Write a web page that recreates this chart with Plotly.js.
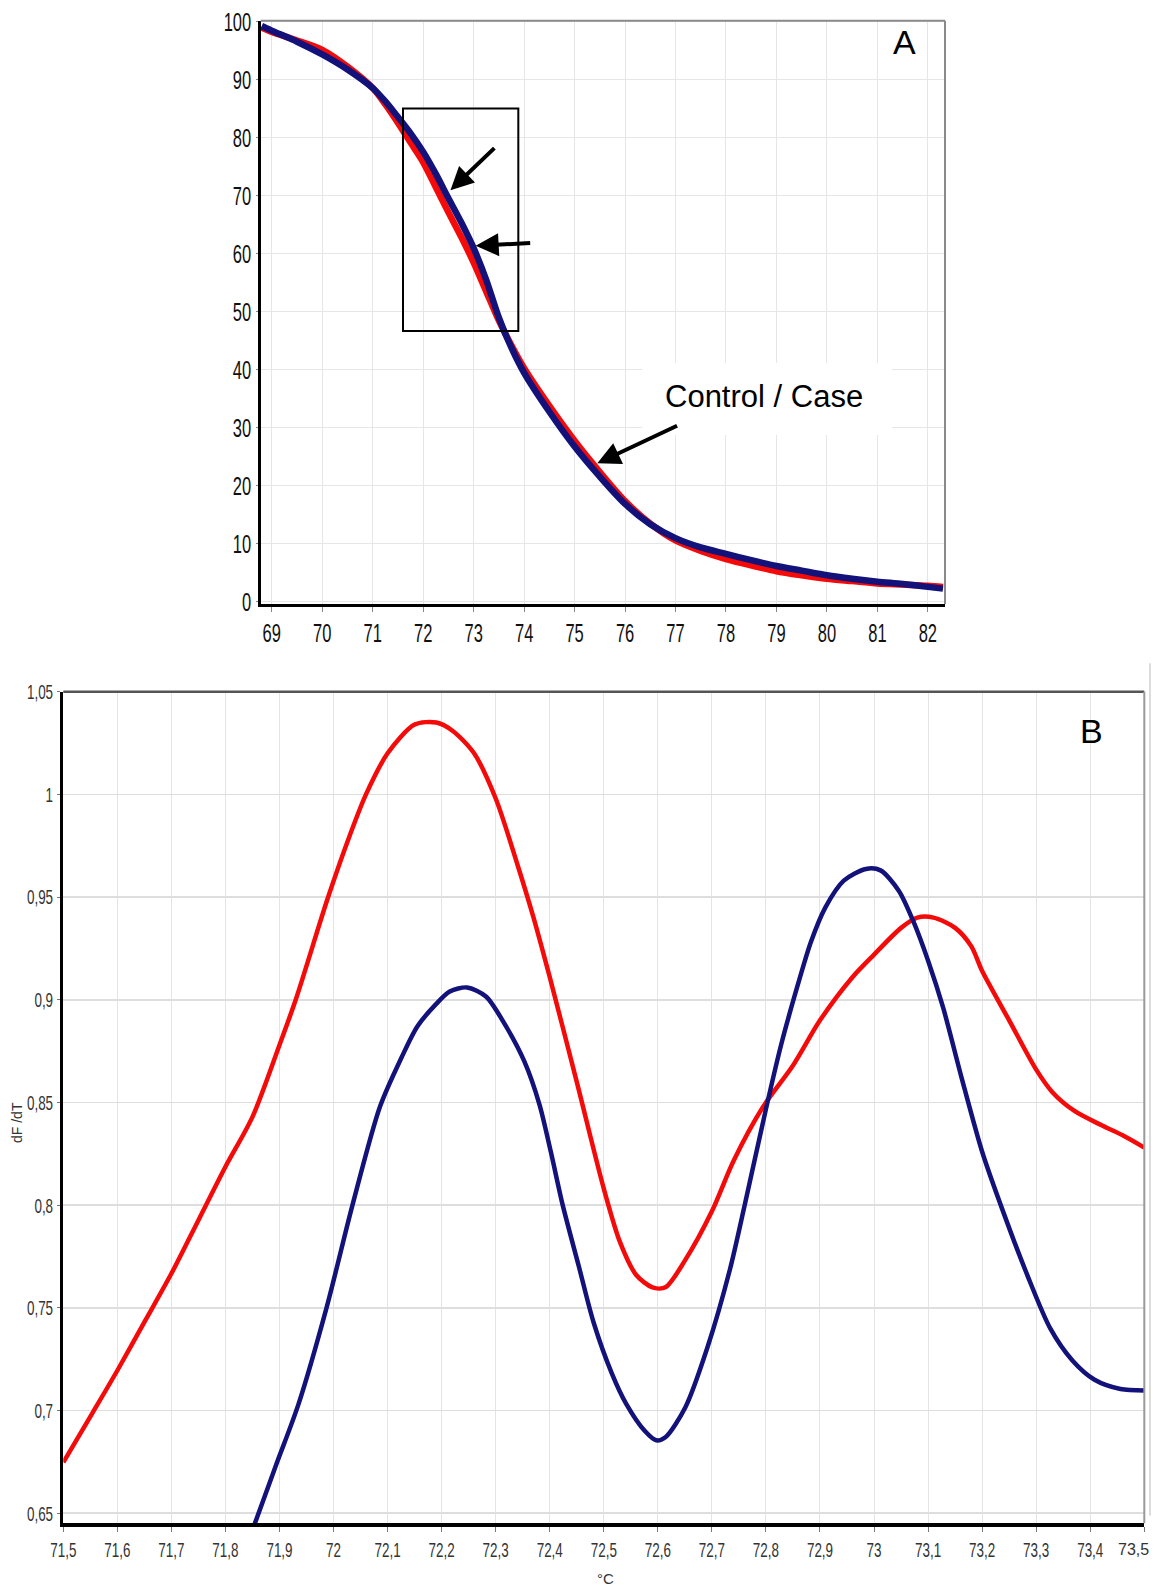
<!DOCTYPE html>
<html>
<head>
<meta charset="utf-8">
<script src="https://cdn.plot.ly/plotly-3.0.1.min.js"></script>
<style>
  html, body { margin: 0; padding: 0; background: #ffffff; }
  #chart { width: 1157px; height: 1587px; }
</style>
</head>
<body>
<div id="chart"></div>
<script>
// ---------- Panel A: melting curves (fluorescence %, vs temperature °C) ----------
var meltTemp = [68.8, 69, 69.5, 70, 70.5, 71, 71.25, 71.5, 71.75, 72, 72.25, 72.5, 72.75, 73, 73.25, 73.5, 73.75, 74, 74.5, 75, 75.5, 76, 76.5, 77, 77.5, 78, 78.5, 79, 79.5, 80, 80.5, 81, 81.5, 82, 82.3];
var meltBlue = [99.3, 98.5, 96.6, 94.4, 91.8, 88.6, 86.3, 83.6, 80.8, 77.6, 73.8, 69.6, 65.5, 61.0, 55.5, 49.0, 43.8, 39.5, 32.8, 26.8, 21.6, 16.9, 13.4, 11.0, 9.4, 8.3, 7.2, 6.2, 5.4, 4.6, 4.0, 3.5, 3.1, 2.6, 2.3];
var meltRed  = [99.0, 98.3, 96.8, 95.2, 92.3, 88.6, 85.8, 82.6, 79.2, 75.8, 71.5, 67.2, 63.0, 58.5, 53.5, 48.5, 44.2, 40.3, 33.8, 27.8, 22.4, 17.4, 13.5, 10.6, 8.8, 7.4, 6.3, 5.3, 4.6, 4.0, 3.6, 3.2, 3.0, 2.8, 2.6];
var meltXTicks = [69, 70, 71, 72, 73, 74, 75, 76, 77, 78, 79, 80, 81, 82];
var meltYTicks = [0, 10, 20, 30, 40, 50, 60, 70, 80, 90, 100];

// ---------- Panel B: derivative curves dF/dT ----------
var derivRedX = [71.5, 71.553, 71.6, 71.652, 71.7, 71.75, 71.8, 71.85, 71.9, 71.93, 71.99, 72.03, 72.06, 72.1, 72.15, 72.19, 72.22, 72.26, 72.3, 72.34, 72.37, 72.4, 72.45, 72.5, 72.53, 72.56, 72.59, 72.614, 72.65, 72.7, 72.74, 72.795, 72.85, 72.9, 72.96, 73.0, 73.05, 73.08, 73.11, 73.15, 73.18, 73.2, 73.25, 73.3, 73.33, 73.37, 73.42, 73.46, 73.5];
var derivRedY = [0.6748, 0.6984, 0.7195, 0.744, 0.7667, 0.7927, 0.8187, 0.843, 0.878, 0.9, 0.95, 0.98, 1.0, 1.02, 1.034, 1.035, 1.031, 1.020, 0.998, 0.966, 0.94, 0.911, 0.86, 0.808, 0.782, 0.766, 0.760, 0.760, 0.773, 0.797, 0.8215, 0.848, 0.868, 0.89, 0.911, 0.922, 0.935, 0.940, 0.940, 0.935, 0.926, 0.914, 0.89, 0.866, 0.855, 0.846, 0.839, 0.834, 0.828];
var derivBlueX = [71.854, 71.893, 71.935, 71.987, 72.035, 72.086, 72.126, 72.155, 72.19, 72.215, 72.247, 72.282, 72.317, 72.353, 72.381, 72.402, 72.424, 72.454, 72.481, 72.515, 72.542, 72.576, 72.597, 72.614, 72.651, 72.692, 72.733, 72.76, 72.801, 72.828, 72.862, 72.883, 72.91, 72.944, 72.985, 73.012, 73.046, 73.073, 73.1, 73.128, 73.162, 73.2, 73.24, 73.285, 73.326, 73.367, 73.408, 73.456, 73.5];
var derivBlueY = [0.6447, 0.673, 0.703, 0.75, 0.80, 0.848, 0.872, 0.887, 0.898, 0.904, 0.906, 0.9016, 0.888, 0.870, 0.849, 0.826, 0.800, 0.770, 0.743, 0.718, 0.703, 0.690, 0.6855, 0.687, 0.7016, 0.7309, 0.7683, 0.7992, 0.848, 0.878, 0.91, 0.928, 0.945, 0.958, 0.9637, 0.963, 0.953, 0.938, 0.919, 0.896, 0.862, 0.826, 0.796, 0.765, 0.740, 0.7244, 0.715, 0.7105, 0.7098];
var derivXTicks = [71.5, 71.6, 71.7, 71.8, 71.9, 72, 72.1, 72.2, 72.3, 72.4, 72.5, 72.6, 72.7, 72.8, 72.9, 73, 73.1, 73.2, 73.3, 73.4, 73.5];
var derivXLabels = ["71,5", "71,6", "71,7", "71,8", "71,9", "72", "72,1", "72,2", "72,3", "72,4", "72,5", "72,6", "72,7", "72,8", "72,9", "73", "73,1", "73,2", "73,3", "73,4", "73,5"];
var derivYTicks = [0.65, 0.7, 0.75, 0.8, 0.85, 0.9, 0.95, 1.0, 1.05];
var derivYLabels = ["0,65", "0,7", "0,75", "0,8", "0,85", "0,9", "0,95", "1", "1,05"];

var RED = '#f50a0a';
var BLUE = '#12127a';
var NARROW = '"Liberation Sans Narrow", "Arial Narrow", "Liberation Sans", Arial, sans-serif';
var SANS = '"Liberation Sans", Arial, sans-serif';

// the last x label sits on the page edge: it is placed as a right-anchored text instead
var lastIdx = derivXLabels.length - 1;
var derivXTickText = derivXLabels.map(function (t, i) { return i === lastIdx ? '' : t; });

var traces = [
  { x: meltTemp, y: meltRed, xaxis: 'x', yaxis: 'y', mode: 'lines', name: 'Control',
    line: { color: RED, width: 6.5, shape: 'spline', smoothing: 0.8 }, hoverinfo: 'skip' },
  { x: meltTemp, y: meltBlue, xaxis: 'x', yaxis: 'y', mode: 'lines', name: 'Case',
    line: { color: BLUE, width: 6.5, shape: 'spline', smoothing: 0.8 }, hoverinfo: 'skip' },
  { x: derivRedX, y: derivRedY, xaxis: 'x2', yaxis: 'y2', mode: 'lines', name: 'Control',
    line: { color: RED, width: 4.5, shape: 'spline', smoothing: 0.8 }, hoverinfo: 'skip' },
  { x: derivBlueX, y: derivBlueY, xaxis: 'x2', yaxis: 'y2', mode: 'lines', name: 'Case',
    line: { color: BLUE, width: 4.5, shape: 'spline', smoothing: 0.8 }, hoverinfo: 'skip' }
];

var layout = {
  width: 1157, height: 1587,
  margin: { l: 0, r: 0, t: 0, b: 0, pad: 0 },
  paper_bgcolor: '#ffffff', plot_bgcolor: '#ffffff',
  showlegend: false,
  xaxis: {
    domain: [0.22532, 0.81677], range: [68.78, 82.34], anchor: 'y',
    tickmode: 'array', tickvals: meltXTicks, ticktext: meltXTicks.map(String),
    showgrid: true, gridcolor: '#e6e6e6', gridwidth: 1, zeroline: false,
    showline: true, linecolor: '#000000', linewidth: 3,
    ticks: 'outside', ticklen: 5, tickwidth: 1, tickcolor: '#888888',
    tickfont: { family: NARROW, size: 25, color: '#111111' }
  },
  yaxis: {
    domain: [0.61941, 0.98696], range: [-0.35, 100.22], anchor: 'x',
    tickmode: 'array', tickvals: meltYTicks, ticktext: meltYTicks.map(String),
    showgrid: true, gridcolor: '#e6e6e6', gridwidth: 1, zeroline: false,
    showline: true, linecolor: '#000000', linewidth: 2.5,
    ticks: 'outside', ticklen: 2, tickwidth: 1, tickcolor: '#888888',
    tickfont: { family: NARROW, size: 25, color: '#111111' }
  },
  xaxis2: {
    domain: [0.05471, 0.98902], range: [71.5, 73.5], anchor: 'y2',
    tickmode: 'array', tickvals: derivXTicks, ticktext: derivXTickText,
    showgrid: true, gridcolor: '#e4e4e4', gridwidth: 1, zeroline: false,
    showline: true, linecolor: '#000000', linewidth: 3.5,
    ticks: 'outside', ticklen: 5, tickwidth: 1, tickcolor: '#777777',
    tickfont: { family: NARROW, size: 21, color: '#333333' }
  },
  yaxis2: {
    domain: [0.04014, 0.56415], range: [0.6451, 1.05], anchor: 'x2',
    tickmode: 'array', tickvals: derivYTicks, ticktext: derivYLabels,
    ticklabeloverflow: 'allow',
    showgrid: true, gridcolor: '#dedede', gridwidth: 1.5, zeroline: false,
    showline: true, linecolor: '#000000', linewidth: 3,
    ticks: 'outside', ticklen: 3, tickwidth: 1, tickcolor: '#777777',
    tickfont: { family: NARROW, size: 21, color: '#333333' }
  },
  shapes: [
    // panel A frame (top / right)
    { type: 'line', xref: 'x domain', yref: 'y domain', x0: 0, x1: 1, y0: 1, y1: 1,
      line: { color: '#8a8a8a', width: 2 } },
    { type: 'line', xref: 'x domain', yref: 'y domain', x0: 1, x1: 1, y0: 0, y1: 1,
      line: { color: '#8a8a8a', width: 2 } },
    // white box behind the label (covers grid)
    { type: 'rect', xref: 'x', yref: 'y', x0: 76.34, x1: 81.29, y0: 28.8, y1: 41.2,
      fillcolor: '#ffffff', line: { width: 0 }, layer: 'between' },
    // zoom rectangle
    { type: 'rect', xref: 'x', yref: 'y', x0: 71.6, x1: 73.885, y0: 46.7, y1: 85.1,
      line: { color: '#000000', width: 2 }, layer: 'above' },
    // panel B frame (top / right)
    { type: 'line', xref: 'x2 domain', yref: 'y2 domain', x0: 0, x1: 1, y0: 1, y1: 1,
      line: { color: '#555555', width: 2.5 } },
    { type: 'line', xref: 'x2 domain', yref: 'y2 domain', x0: 1, x1: 1, y0: 0, y1: 1,
      line: { color: '#999999', width: 2 } },
    // stray vertical border at the far right of panel B (stops above the tick labels)
    { type: 'line', xref: 'paper', yref: 'paper', x0: 0.99395, x1: 0.99395, y0: 0.045, y1: 0.582,
      line: { color: '#d0d0d0', width: 1.5 } }
  ],
  annotations: [
    { xref: 'x', yref: 'y', x: 81.53, y: 96.5, text: 'A', showarrow: false,
      font: { family: SANS, size: 34, color: '#000000' } },
    { xref: 'x', yref: 'y', x: 78.75, y: 35.5, text: 'Control / Case', showarrow: false,
      font: { family: SANS, size: 31, color: '#000000' } },
    { xref: 'x', yref: 'y', x: 72.54, y: 71.0, axref: 'x', ayref: 'y', ax: 73.44, ay: 78.5,
      text: '', showarrow: true, arrowhead: 2, arrowsize: 1.15, arrowwidth: 4, arrowcolor: '#000000', standoff: 0 },
    { xref: 'x', yref: 'y', x: 73.04, y: 61.4, axref: 'x', ayref: 'y', ax: 74.15, ay: 61.9,
      text: '', showarrow: true, arrowhead: 2, arrowsize: 1.15, arrowwidth: 4, arrowcolor: '#000000', standoff: 0 },
    { xref: 'x', yref: 'y', x: 75.45, y: 23.9, axref: 'x', ayref: 'y', ax: 77.06, ay: 30.5,
      text: '', showarrow: true, arrowhead: 2, arrowsize: 1.15, arrowwidth: 4, arrowcolor: '#000000', standoff: 0 },
    { xref: 'x2', yref: 'y2', x: 73.403, y: 1.031, text: 'B', showarrow: false,
      font: { family: SANS, size: 34, color: '#000000' } },
    { xref: 'paper', yref: 'paper', x: 17 / 1157, y: 1 - 1123 / 1587, xanchor: 'center', yanchor: 'middle',
      text: 'dF /dT', textangle: -90,
      showarrow: false, font: { family: NARROW, size: 14, color: '#333333' } },
    { xref: 'paper', yref: 'paper', x: 605 / 1157, y: 1 - 1578 / 1587, xanchor: 'center', yanchor: 'middle',
      text: '°C', showarrow: false, font: { family: NARROW, size: 15, color: '#333333' } },
    { xref: 'paper', yref: 'paper', x: 1150 / 1157, y: 1 - 1549 / 1587, xanchor: 'right', yanchor: 'middle',
      text: derivXLabels[lastIdx], showarrow: false, borderpad: 0,
      font: { family: NARROW, size: 16, color: '#333333' } }
  ]
};

function condense(sel, factor) {
  document.querySelectorAll(sel).forEach(function (el) {
    var w = el.getComputedTextLength();
    if (w > 0) {
      el.setAttribute('textLength', (w * factor).toFixed(2));
      el.setAttribute('lengthAdjust', 'spacingAndGlyphs');
    }
  });
}

Plotly.newPlot('chart', traces, layout, { staticPlot: true, displayModeBar: false }).then(function () {
  condense('.xy .xtick text, .xy .ytick text', 0.66);
  condense('.x2y2 .xtick text, .x2y2 .ytick text, .x2y2 .x2tick text, .x2y2 .y2tick text', 0.64);
});
</script>
</body>
</html>
